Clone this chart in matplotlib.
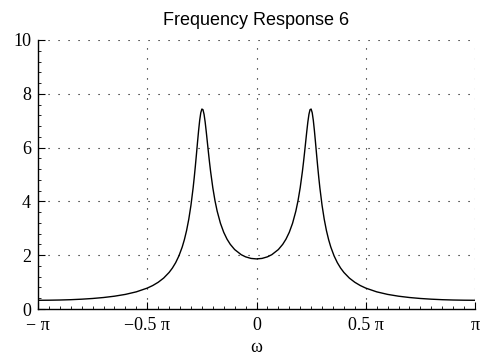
import matplotlib
matplotlib.use("Agg")
import matplotlib.pyplot as plt
from matplotlib.ticker import MultipleLocator

# frequency in units of pi
omega_pi = [-1.0, -0.95, -0.9, -0.85, -0.8, -0.75, -0.7, -0.65, -0.6, -0.55, -0.5,
            -0.475, -0.45, -0.425, -0.4, -0.385, -0.37, -0.355, -0.34, -0.33, -0.32,
            -0.31, -0.3, -0.29, -0.285, -0.28, -0.275, -0.27, -0.265, -0.26, -0.255,
            -0.25, -0.245, -0.24, -0.235, -0.23, -0.225, -0.22, -0.215, -0.21, -0.2,
            -0.19, -0.18, -0.165, -0.15, -0.135, -0.12, -0.1, -0.07, -0.05, -0.025,
            0.0,
            0.025, 0.05, 0.07, 0.1, 0.12, 0.135, 0.15, 0.165, 0.18, 0.19, 0.2,
            0.21, 0.215, 0.22, 0.225, 0.23, 0.235, 0.24, 0.245, 0.25, 0.255,
            0.26, 0.265, 0.27, 0.275, 0.28, 0.285, 0.29, 0.3, 0.31, 0.32, 0.33,
            0.34, 0.355, 0.37, 0.385, 0.4, 0.425, 0.45, 0.475, 0.5,
            0.55, 0.6, 0.65, 0.7, 0.75, 0.8, 0.85, 0.9, 0.95, 1.0]
magnitude = [0.324, 0.327, 0.334, 0.346, 0.365, 0.391, 0.427, 0.476, 0.543, 0.638, 0.777,
             0.872, 0.993, 1.149, 1.359, 1.521, 1.722, 1.976, 2.304, 2.580, 2.917,
             3.335, 3.856, 4.506, 4.886, 5.300, 5.741, 6.195, 6.632, 7.015, 7.295,
             7.433, 7.410, 7.237, 6.951, 6.594, 6.208, 5.821, 5.451, 5.108, 4.510,
             4.026, 3.637, 3.186, 2.851, 2.598, 2.404, 2.210, 2.019, 1.939, 1.880,
             1.862,
             1.880, 1.939, 2.019, 2.210, 2.404, 2.598, 2.851, 3.186, 3.637, 4.026, 4.510,
             5.108, 5.451, 5.821, 6.208, 6.594, 6.951, 7.237, 7.410, 7.433, 7.295,
             7.015, 6.632, 6.195, 5.741, 5.300, 4.886, 4.506, 3.856, 3.335, 2.917, 2.580,
             2.304, 1.976, 1.722, 1.521, 1.359, 1.149, 0.993, 0.872, 0.777,
             0.638, 0.543, 0.476, 0.427, 0.391, 0.365, 0.346, 0.334, 0.327, 0.324]

x_ticks = [-1.0, -0.5, 0.0, 0.5, 1.0]
x_ticklabels = ["\u2212 \u03c0", "\u22120.5 \u03c0", "0", "0.5 \u03c0", "\u03c0"]
y_ticks = [0, 2, 4, 6, 8, 10]
y_ticklabels = ["0", "2", "4", "6", "8", "10"]
title = "Frequency Response 6"
xlabel = "\u03c9"

fig = plt.figure(figsize=(4.89, 3.62), dpi=100)
ax = fig.add_axes([38/489, 1-309/362, (475-38)/489, (309-40)/362])

ax.plot(omega_pi, magnitude, color="black", linewidth=1.0)

ax.set_xlim(-1, 1)
ax.set_ylim(0, 10)
ax.set_xticks(x_ticks)
ax.set_xticklabels(x_ticklabels, fontfamily="Liberation Serif", fontsize=13)
ax.set_yticks(y_ticks)
ax.set_yticklabels(y_ticklabels, fontfamily="Liberation Serif", fontsize=13)
ax.xaxis.set_minor_locator(MultipleLocator(0.05))
ax.yaxis.set_minor_locator(MultipleLocator(0.4))
ax.tick_params(which="major", direction="in", length=5, width=0.8, colors="black")
ax.tick_params(axis="x", which="major", pad=6)
ax.tick_params(axis="y", which="major", pad=5)
ax.tick_params(which="minor", direction="in", length=2.5, width=0.6)

for s in ["top", "right"]:
    ax.spines[s].set_visible(False)
for s in ["left", "bottom"]:
    ax.spines[s].set_linewidth(1.0)

for yv in y_ticks[1:]:
    ax.axhline(yv, color="black", linewidth=0.8, linestyle=(0, (1, 8)), zorder=0)
for xv in x_ticks[1:]:
    ax.axvline(xv, color="black", linewidth=0.8, linestyle=(0, (1, 8)), zorder=0)

ax.set_title(title, fontfamily="Liberation Sans", fontsize=13, pad=11)
ax.set_xlabel(xlabel, fontfamily="Liberation Serif", fontsize=13, labelpad=3)

fig.savefig("out.png", dpi=100)
